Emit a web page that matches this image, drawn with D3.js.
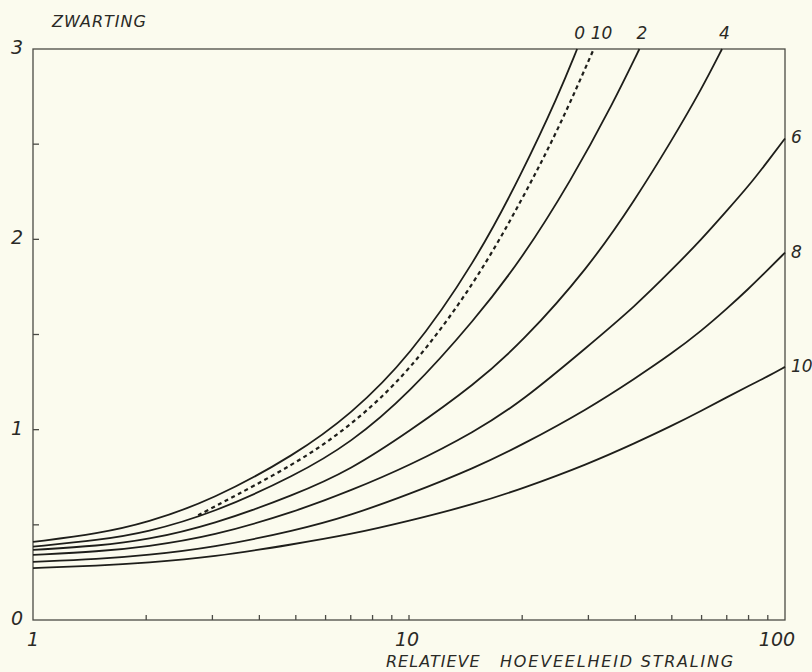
<!DOCTYPE html>
<html>
<head>
<meta charset="utf-8">
<script src="https://cdn.jsdelivr.net/npm/d3@7"></script>
<style>
    body { margin: 0; background: #fbfbee; }
    svg { display: block; }
    .frame { fill: none; stroke: #4a4a44; stroke-width: 1.3; }
    .curve { fill: none; stroke: #1e1e1a; stroke-width: 1.8; }
    .curve.dashed { stroke-dasharray: 4, 3.5; stroke-width: 2.2; }
    .lbl { font-family: "DejaVu Sans", sans-serif; font-style: italic; fill: #2a2a26; font-weight: 300; }
</style>
</head>
<body>
<div id="chart"></div>
<script>
// relatieve hoeveelheid straling (x) vs zwarting (y)
var curve0 = [[1, 0.41], [1.5, 0.455], [2, 0.51], [3, 0.63], [5, 0.87], [7, 1.08], [10, 1.38], [15, 1.88], [20, 2.35], [25, 2.76], [28, 3.0]];
var curve10dash = [[2.75, 0.55], [3, 0.59], [5, 0.82], [7, 1.02], [10, 1.30], [15, 1.77], [20, 2.21], [25, 2.58], [31, 3.0]];
var curve2 = [[1, 0.385], [1.5, 0.42], [2, 0.46], [3, 0.56], [5, 0.76], [7, 0.93], [10, 1.19], [15, 1.58], [20, 1.90], [27, 2.31], [35, 2.72], [41, 3.0]];
var curve4 = [[1, 0.368], [1.5, 0.39], [2, 0.42], [3, 0.50], [5, 0.66], [7, 0.79], [10, 0.99], [15, 1.24], [20, 1.46], [30, 1.85], [40, 2.21], [50, 2.52], [60, 2.79], [68, 3.0]];
var curve6 = [[1, 0.342], [1.5, 0.36], [2, 0.385], [3, 0.44], [5, 0.57], [7, 0.68], [10, 0.81], [15, 0.99], [20, 1.15], [30, 1.44], [40, 1.65], [50, 1.84], [60, 2.00], [70, 2.15], [80, 2.28], [90, 2.41], [100, 2.53]];
var curve8 = [[1, 0.305], [1.5, 0.32], [2, 0.34], [3, 0.38], [5, 0.47], [7, 0.55], [10, 0.66], [15, 0.80], [20, 0.92], [30, 1.11], [40, 1.27], [50, 1.40], [60, 1.52], [70, 1.635], [80, 1.74], [90, 1.84], [100, 1.93]];
var curve10 = [[1, 0.273], [1.5, 0.285], [2, 0.30], [3, 0.33], [5, 0.40], [7, 0.45], [10, 0.52], [15, 0.61], [20, 0.69], [30, 0.82], [40, 0.93], [50, 1.02], [60, 1.10], [70, 1.17], [80, 1.23], [90, 1.28], [100, 1.33]];

var curveLabels = ["0", "10", "2", "4", "6", "8", "10"];
var xTickValues = [2, 3, 4, 5, 6, 7, 8, 9, 10, 20, 30, 40, 50, 60, 70, 80, 90];
var xLabelValues = [1, 10, 100];
var yTickValues = [0.5, 1, 1.5, 2, 2.5];
var yLabelValues = [0, 1, 2, 3];

var width = 812, height = 672;
var margin = { left: 33, right: 27, top: 49, bottom: 52 };

var svg = d3.select("#chart").append("svg")
    .attr("width", width)
    .attr("height", height);

var x = d3.scaleLog().domain([1, 100]).range([margin.left, width - margin.right]);
var y = d3.scaleLinear().domain([0, 3]).range([height - margin.bottom, margin.top]);

var line = d3.line()
    .x(function (d) { return x(d[0]); })
    .y(function (d) { return y(d[1]); })
    .curve(d3.curveBasis);

// frame
svg.append("rect")
    .attr("class", "frame")
    .attr("x", x(1)).attr("y", y(3))
    .attr("width", x(100) - x(1))
    .attr("height", y(0) - y(3));

// ticks, pointing inward
svg.selectAll(".xtick").data(xTickValues).enter().append("line")
    .attr("class", "frame")
    .attr("x1", function (d) { return x(d); })
    .attr("x2", function (d) { return x(d); })
    .attr("y1", y(0))
    .attr("y2", y(0) - 5);

svg.selectAll(".ytick").data(yTickValues).enter().append("line")
    .attr("class", "frame")
    .attr("x1", x(1))
    .attr("x2", x(1) + 6)
    .attr("y1", function (d) { return y(d); })
    .attr("y2", function (d) { return y(d); });

// tick labels
svg.selectAll(".ylbl").data(yLabelValues).enter().append("text")
    .attr("class", "lbl")
    .attr("x", 23)
    .attr("y", function (d) { return y(d) + 5; })
    .attr("text-anchor", "end")
    .style("font-size", "19px")
    .text(function (d) { return d; });

svg.selectAll(".xlbl").data(xLabelValues).enter().append("text")
    .attr("class", "lbl")
    .attr("x", function (d, i) { return x(d) + [0, -2, -8][i]; })
    .attr("y", y(0) + 26)
    .attr("text-anchor", "middle")
    .style("font-size", "19px")
    .text(function (d) { return d; });

// axis titles
svg.append("text")
    .attr("class", "lbl")
    .attr("x", 52).attr("y", 27)
    .style("font-size", "16px")
    .style("letter-spacing", "1px")
    .text("ZWARTING");

svg.append("text")
    .attr("class", "lbl")
    .attr("x", 386).attr("y", 667)
    .style("font-size", "16px")
    .style("letter-spacing", "1px")
    .text("RELATIEVE");

svg.append("text")
    .attr("class", "lbl")
    .attr("x", 500).attr("y", 667)
    .style("font-size", "16px")
    .style("letter-spacing", "1.8px")
    .text("HOEVEELHEID STRALING");

// curves
var curves = [curve0, curve10dash, curve2, curve4, curve6, curve8, curve10];

svg.selectAll(".curve").data(curves).enter().append("path")
    .attr("class", function (d, i) { return i === 1 ? "curve dashed" : "curve"; })
    .attr("d", line);

// labels at the end of each curve
curves.forEach(function (c, i) {
    var last = c[c.length - 1];
    var top = last[1] >= 3;
    svg.append("text")
        .attr("class", "lbl")
        .attr("x", top ? x(last[0]) - 3 : x(last[0]) + 6)
        .attr("y", top ? y(3) - 10 : y(last[1]) + 5)
        .attr("text-anchor", "start")
        .style("font-size", "17px")
        .text(curveLabels[i]);
});
</script>
</body>
</html>
